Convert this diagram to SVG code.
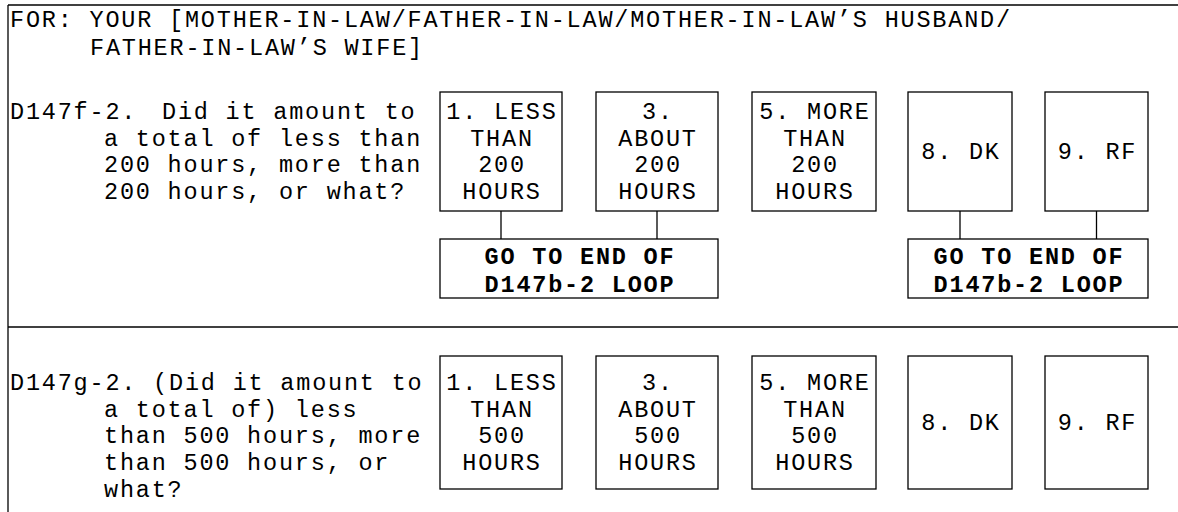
<svg xmlns="http://www.w3.org/2000/svg" width="1178" height="512" viewBox="0 0 1178 512">
<style>
.t{font-family:"Liberation Mono","Courier New",monospace;font-size:23.5px;letter-spacing:1.8px;fill:#000}
.b{font-weight:bold}
.c{text-anchor:middle}
.box{fill:#fff;stroke:#000;stroke-width:1.3}
.ln{stroke:#000;stroke-width:1.3;fill:none}
</style>
<g id="frame">
<line class="ln" x1="8" y1="5" x2="1178" y2="5"/>
<line class="ln" x1="8" y1="5" x2="8" y2="512"/>
<line class="ln" x1="8" y1="327" x2="1178" y2="327"/>
</g>
<g id="header">
<text class="t" x="10" y="27">FOR: YOUR [MOTHER-IN-LAW/FATHER-IN-LAW/MOTHER-IN-LAW’S HUSBAND/</text>
<text class="t" x="90" y="54.5">FATHER-IN-LAW’S WIFE]</text>
</g>
<g id="connectors">
<line class="ln" x1="501" y1="211" x2="501" y2="239"/>
<line class="ln" x1="657" y1="211" x2="657" y2="239"/>
<line class="ln" x1="960" y1="211" x2="960" y2="239"/>
<line class="ln" x1="1096.5" y1="211" x2="1096.5" y2="239"/>
</g>
<g id="q1">
<text class="t" x="10" y="119">D147f-2.<tspan x="162">Did it amount to</tspan></text>
<text class="t" x="104" y="145.7">a total of less than</text>
<text class="t" x="104" y="172.4">200 hours, more than</text>
<text class="t" x="104" y="199">200 hours, or what?</text>
</g>
<g id="q1_opt1">
<rect class="box" x="440" y="92" width="122" height="119"/>
<text class="t c" x="502" y="119">1. LESS</text>
<text class="t c" x="502" y="145.7">THAN</text>
<text class="t c" x="502" y="172.4">200</text>
<text class="t c" x="502" y="199">HOURS</text>
</g>
<g id="q1_opt3">
<rect class="box" x="596" y="92" width="122" height="119"/>
<text class="t c" x="658" y="119">3.</text>
<text class="t c" x="658" y="145.7">ABOUT</text>
<text class="t c" x="658" y="172.4">200</text>
<text class="t c" x="658" y="199">HOURS</text>
</g>
<g id="q1_opt5">
<rect class="box" x="752" y="92" width="124" height="119"/>
<text class="t c" x="815" y="119">5. MORE</text>
<text class="t c" x="815" y="145.7">THAN</text>
<text class="t c" x="815" y="172.4">200</text>
<text class="t c" x="815" y="199">HOURS</text>
</g>
<g id="q1_opt8">
<rect class="box" x="908" y="92" width="104" height="119"/>
<text class="t c" x="961" y="159">8. DK</text>
</g>
<g id="q1_opt9">
<rect class="box" x="1045" y="92" width="103" height="119"/>
<text class="t c" x="1097.5" y="159">9. RF</text>
</g>
<g id="goto1">
<rect class="box" x="440" y="239" width="278" height="59"/>
<text class="t b c" x="580" y="264">GO TO END OF</text>
<text class="t b c" x="580" y="292">D147b-2 LOOP</text>
</g>
<g id="goto2">
<rect class="box" x="908" y="239" width="240" height="59"/>
<text class="t b c" x="1029" y="264">GO TO END OF</text>
<text class="t b c" x="1029" y="292">D147b-2 LOOP</text>
</g>
<g id="q2">
<text class="t" x="10" y="390">D147g-2. (Did it amount to</text>
<text class="t" x="104" y="416.7">a total of) less</text>
<text class="t" x="104" y="443.4">than 500 hours, more</text>
<text class="t" x="104" y="470">than 500 hours, or</text>
<text class="t" x="104" y="496.7">what?</text>
</g>
<g id="q2_opt1">
<rect class="box" x="440" y="356" width="122" height="133"/>
<text class="t c" x="502" y="390">1. LESS</text>
<text class="t c" x="502" y="416.7">THAN</text>
<text class="t c" x="502" y="443.4">500</text>
<text class="t c" x="502" y="470">HOURS</text>
</g>
<g id="q2_opt3">
<rect class="box" x="596" y="356" width="122" height="133"/>
<text class="t c" x="658" y="390">3.</text>
<text class="t c" x="658" y="416.7">ABOUT</text>
<text class="t c" x="658" y="443.4">500</text>
<text class="t c" x="658" y="470">HOURS</text>
</g>
<g id="q2_opt5">
<rect class="box" x="752" y="356" width="124" height="133"/>
<text class="t c" x="815" y="390">5. MORE</text>
<text class="t c" x="815" y="416.7">THAN</text>
<text class="t c" x="815" y="443.4">500</text>
<text class="t c" x="815" y="470">HOURS</text>
</g>
<g id="q2_opt8">
<rect class="box" x="908" y="356" width="104" height="133"/>
<text class="t c" x="961" y="430">8. DK</text>
</g>
<g id="q2_opt9">
<rect class="box" x="1045" y="356" width="103" height="133"/>
<text class="t c" x="1097.5" y="430">9. RF</text>
</g>
</svg>
